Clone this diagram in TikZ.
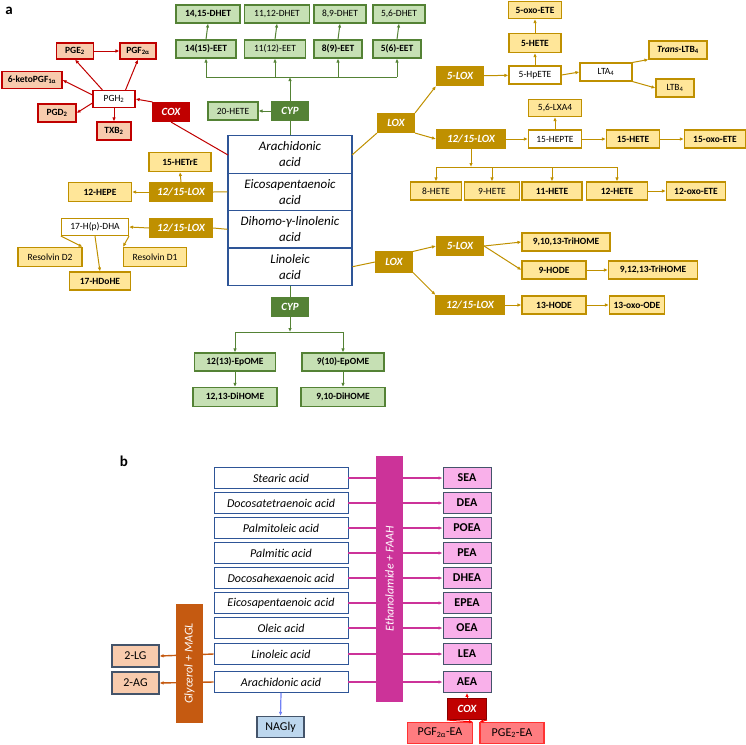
\documentclass[tikz,border=0pt]{standalone}
\usepackage{fontspec}
\setmainfont{Carlito}
\usetikzlibrary{arrows.meta}
\definecolor{gfill}{HTML}{C6E0B4}
\definecolor{gdraw}{HTML}{548235}
\definecolor{rfill}{HTML}{F8CBAD}
\definecolor{rdraw}{HTML}{C00000}
\definecolor{yfill}{HTML}{FFE699}
\definecolor{ydraw}{HTML}{BF9000}
\definecolor{bdraw}{HTML}{2E5597}
\definecolor{mag}{HTML}{CC3399}
\definecolor{pfill}{HTML}{F9B0EA}
\definecolor{slate}{HTML}{44546A}
\definecolor{ochre}{HTML}{C55A11}
\definecolor{lblue}{HTML}{BDD7EE}
\definecolor{coral}{HTML}{FF7C80}
\newcommand\smf{\fontsize{9.5}{10}\selectfont}
\tikzset{
  box/.style={draw, line width=1.1pt, inner sep=0pt, minimum height=18pt, font=\smf, align=center},
  gbox/.style={box, fill=gfill, draw=gdraw},
  rbox/.style={box, fill=rfill, draw=rdraw},
  ybox/.style={box, fill=yfill, draw=ydraw},
  wbox/.style={box, fill=white},
  enz/.style={box, text=white, font=\fontsize{11}{12}\selectfont\bfseries\itshape},
  cen/.style={draw=bdraw, line width=1.1pt, minimum width=124pt, minimum height=37.4pt, inner sep=0pt, align=center, font=\fontsize{13}{16}\selectfont\itshape},
  acid/.style={draw=bdraw, line width=0.9pt, minimum width=134pt, minimum height=21pt, inner sep=0pt, font=\fontsize{12}{13}\selectfont\itshape},
  ea/.style={draw=slate, fill=pfill, line width=0.9pt, minimum width=48pt, minimum height=21pt, inner sep=0pt, font=\fontsize{12}{13}\selectfont\bfseries},
  bar/.style={draw=none, inner sep=0pt, text=white, font=\fontsize{12}{13}\selectfont\itshape, rotate=90},
  gar/.style={draw=gdraw, line width=1pt, -{Latex[length=4pt,width=3.5pt]}},
  rar/.style={draw=rdraw, line width=1pt, -{Latex[length=4pt,width=3.5pt]}},
  yar/.style={draw=ydraw, line width=1pt, -{Latex[length=4pt,width=3.5pt]}},
  mar/.style={draw=mag, line width=1.2pt, -{Latex[length=4pt,width=3.5pt]}},
  oar/.style={draw=ochre, line width=1.4pt, -{Latex[length=4pt,width=3.5pt]}}
}
\begin{document}
\begin{tikzpicture}[x=1pt, y=-1pt]
\useasboundingbox (0,0) rectangle (746,744);

% panel labels
\node[font=\fontsize{15}{15}\selectfont\bfseries] (la_a) at (9,11) {a};
\node[font=\fontsize{15}{15}\selectfont\bfseries] (la_b) at (124,461) {b};

% central acids
\node[cen] (aa) at (290,154.5) {Arachidonic\\acid};
\node[cen] (epa) at (290,191.9) {Eicosapentaenoic\\acid};
\node[cen] (dgla) at (290,229.3) {Dihomo-γ-linolenic\\acid};
\node[cen] (la) at (290,266.7) {Linoleic\\acid};

% CYP, arachidonic
\node[enz, fill=gdraw, draw=gdraw, minimum width=36pt] (cyp) at (290,111) {CYP};
\node[gbox, minimum width=50pt] (h20) at (233,111) {20-HETE};
\foreach \nm/\xx/\ww/\ee/\dd/\fa/\fb in {a/206/60/14(15)-EET/{14,15-DHET}/\bfseries/\bfseries, b/275/61/11(12)-EET/{11,12-DHET}/\mdseries/\mdseries, c/338/48/8(9)-EET/{8,9-DHET}/\bfseries/\mdseries, d/397/48/5(6)-EET/{5,6-DHET}/\bfseries/\mdseries}{
  \node[gbox, minimum width=\ww pt, font=\smf\fa] (eet\nm) at (\xx,49) {\ee};
  \node[gbox, minimum width=\ww pt+4pt, font=\smf\fb] (dhet\nm) at (\xx+2,14) {\dd};
  \draw[gar] (eet\nm.north) -- (dhet\nm.south);
  \coordinate (cb\nm) at (\xx,77);
  \draw[gar] (cb\nm) -- (eet\nm.south);
}
\draw[gdraw, line width=1pt] (cba) -- (cbd);
\draw[gdraw, line width=1pt] (aa.north) -- (cyp.south);
\draw[gar] (cyp.north) -- (290,77);
\draw[gar] (cyp.west) -- (h20.east);

% COX
\node[enz, fill=rdraw, draw=rdraw, minimum width=36pt, minimum height=19pt] (cox) at (171,112) {COX};
\node[rbox, fill=white, minimum width=42pt, minimum height=17pt, font=\smf] (pgh) at (114,99) {PGH\textsubscript{2}};
\node[rbox, minimum width=37pt, minimum height=16pt, font=\smf\bfseries] (pge) at (75,51) {PGE\textsubscript{2}};
\node[rbox, minimum width=36pt, minimum height=16pt, font=\smf\bfseries] (pgf) at (138,51) {PGF\textsubscript{2α}};
\node[rbox, minimum width=60pt, minimum height=17pt, font=\smf\bfseries] (keto) at (32,80) {6-ketoPGF\textsubscript{1α}};
\node[rbox, minimum width=38pt, font=\smf\bfseries] (pgd) at (57,113) {PGD\textsubscript{2}};
\node[rbox, minimum width=34pt, font=\smf\bfseries] (txb) at (114,131) {TXB\textsubscript{2}};
\coordinate (aaw) at (228,155);
\draw[rdraw, line width=1pt] (aaw) -- (cox.south);
\draw[rar] (cox.north west) -- (pgh.east);
\draw[rar] (pge) -- (pgf);
\draw[rar] (pgh.north west) ++(10,0) -- (pge.south);
\draw[rar] (pgh.north east) ++(-10,0) -- (pgf.south);
\draw[rar] (pgh.west) ++(0,-4) -- (keto.east);
\draw[rar] (pgh.west) ++(0,4) -- (pgd.east);
\draw[rar] (pgh.south) -- (txb.north);

% EPA, DGLA
\node[enz, fill=ydraw, draw=ydraw, minimum width=63pt, minimum height=19pt] (loxe) at (181,192) {12/15-LOX};
\node[ybox, minimum width=62pt, minimum height=19pt, font=\smf\bfseries] (hetre) at (180,162) {15-HETrE};
\node[ybox, minimum width=63pt, minimum height=19pt, font=\smf\bfseries] (hepe) at (100,192) {12-HEPE};
\draw[ydraw, line width=1pt] (epa.west) -- (loxe.east);
\draw[yar] (loxe.west) -- (hepe.east);
\draw[yar] (loxe.north) -- (hetre.south);
\node[enz, fill=ydraw, draw=ydraw, minimum width=63pt, minimum height=19pt] (loxd) at (181,228) {12/15-LOX};
\node[wbox, draw=ydraw, minimum width=67pt, minimum height=17pt] (hdha) at (95,227) {17-H(p)-DHA};
\node[ybox, minimum width=64pt, minimum height=19pt] (rvd2) at (50,257) {Resolvin D2};
\node[ybox, minimum width=63pt, minimum height=19pt] (rvd1) at (155,257) {Resolvin D1};
\node[ybox, minimum width=61pt, font=\smf\bfseries] (hdohe) at (100,281) {17-HDoHE};
\draw[ydraw, line width=1pt] (dgla.west) -- (loxd.east);
\draw[yar] (loxd.west) -- (hdha.east);
\draw[yar] (hdha.south west) -- (rvd2.north east);
\draw[yar] (hdha.south east) -- (rvd1.north west);
\draw[yar] (hdha.south) -- (hdohe.north);

% LOX, arachidonic
\node[enz, fill=ydraw, draw=ydraw, minimum width=37pt, minimum height=19pt] (loxa) at (396,123) {LOX};
\node[enz, fill=ydraw, draw=ydraw, minimum width=47pt, minimum height=19pt] (lox5) at (460,76) {5-LOX};
\node[wbox, draw=ydraw, minimum width=52pt] (hpete) at (535,75) {5-HpETE};
\node[ybox, minimum width=52pt, minimum height=19pt, font=\smf\bfseries] (hete5) at (535,43) {5-HETE};
\node[ybox, minimum width=53pt, minimum height=17pt, font=\smf\bfseries] (oxo5) at (535,10) {5-oxo-ETE};
\node[wbox, draw=ydraw, minimum width=52pt] (lta) at (606,72) {LTA\textsubscript{4}};
\node[ybox, minimum width=58pt] (tltb) at (678,50) {\textbf{\textit{Trans}-LTB\textsubscript{4}}};
\node[ybox, minimum width=38pt] (ltb) at (675,88) {LTB\textsubscript{4}};
\coordinate (aae) at (352,155);
\draw[ydraw, line width=1pt] (aae) -- (loxa.south west);
\draw[yar] (loxa.north east) -- (lox5.south west);
\draw[yar] (lox5) -- (hpete);
\draw[yar] (hpete) -- (hete5);
\draw[yar] (hete5) -- (oxo5);
\draw[yar] (hpete.east) -- (lta.west);
\draw[yar] (lta.north east) -- (tltb.south west);
\draw[yar] (lta.south east) -- (ltb.west);
\node[enz, fill=ydraw, draw=ydraw, minimum width=69pt, minimum height=19pt] (lox15) at (471,139) {12/15-LOX};
\node[wbox, draw=ydraw, minimum width=53pt] (hepte) at (555,139) {15-HEPTE};
\node[ybox, minimum width=53pt, minimum height=17pt] (lxa) at (555,108) {5,6-LXA4};
\node[ybox, minimum width=53pt, font=\smf\bfseries] (hete15) at (633,139) {15-HETE};
\node[ybox, minimum width=61pt, font=\smf\bfseries] (oxo15) at (715,139) {15-oxo-ETE};
\draw[yar] (loxa.south east) -- (lox15.west);
\draw[yar] (lox15) -- (hepte);
\draw[yar] (hepte) -- (lxa);
\draw[yar] (hepte) -- (hete15);
\draw[yar] (hete15) -- (oxo15);
\foreach \nm/\xx/\ww/\tt/\fa in {8/436/51/8-HETE/\mdseries, 9/492/55/9-HETE/\mdseries, 11/552/60/11-HETE/\bfseries, 12/617/61/12-HETE/\bfseries}{
  \node[ybox, minimum width=\ww pt, font=\smf\fa] (hete\nm) at (\xx,191) {\tt};
  \draw[yar] (\xx,167) -- (hete\nm.north);
}
\node[ybox, minimum width=59pt, font=\smf\bfseries] (oxo12) at (696,191) {12-oxo-ETE};
\draw[ydraw, line width=1pt] (436,167) -- (617,167);
\draw[yar] (lox15.south) -- (471,167);
\draw[yar] (hete12) -- (oxo12);

% LOX, linoleic
\node[enz, fill=ydraw, draw=ydraw, minimum width=37pt, minimum height=20pt] (loxl) at (394,262) {LOX};
\node[enz, fill=ydraw, draw=ydraw, minimum width=47pt, minimum height=19pt] (lox5l) at (460,246) {5-LOX};
\node[enz, fill=ydraw, draw=ydraw, minimum width=68pt, minimum height=19pt] (lox15l) at (470,305) {12/15-LOX};
\node[ybox, minimum width=88pt, font=\smf\bfseries] (tri1) at (566,242) {9,10,13-TriHOME};
\node[ybox, minimum width=64pt, font=\smf\bfseries] (hode9) at (554,270) {9-HODE};
\node[ybox, minimum width=89pt, font=\smf\bfseries] (tri2) at (653,270) {9,12,13-TriHOME};
\node[ybox, minimum width=64pt, font=\smf\bfseries] (hode13) at (554,305) {13-HODE};
\node[ybox, minimum width=55pt, font=\smf\bfseries] (oxode) at (637,305) {13-oxo-ODE};
\draw[ydraw, line width=1pt] (la.east) -- (loxl.west);
\draw[yar] (loxl.north east) -- (lox5l.west);
\draw[yar] (loxl.south east) -- (lox15l.north west);
\draw[yar] (lox5l.east) -- (tri1.west);
\draw[yar] (lox5l.east) -- (hode9.west);
\draw[yar] (hode9) -- (tri2);
\draw[yar] (lox15l) -- (hode13);
\draw[yar] (hode13) -- (oxode);

% CYP, linoleic
\node[enz, fill=gdraw, draw=gdraw, minimum width=36pt, minimum height=19pt] (cypl) at (290,307) {CYP};
\node[gbox, minimum width=81pt, font=\smf\bfseries] (ep12) at (235,362) {12(13)-EpOME};
\node[gbox, minimum width=82pt, font=\smf\bfseries] (ep9) at (343,362) {9(10)-EpOME};
\node[gbox, minimum width=84pt, minimum height=19pt, font=\smf\bfseries] (di12) at (235,397) {12,13-DiHOME};
\node[gbox, minimum width=84pt, minimum height=19pt, font=\smf\bfseries] (di9) at (343,397) {9,10-DiHOME};
\draw[gdraw, line width=1pt] (la.south) -- (cypl.north);
\draw[gar] (cypl.south) -- (290,332);
\draw[gdraw, line width=1pt] (235,332) -- (343,332);
\draw[gar] (235,332) -- (ep12.north);
\draw[gar] (343,332) -- (ep9.north);
\draw[gar] (ep12) -- (di12);
\draw[gar] (ep9) -- (di9);

% panel b
\foreach \nm/\yy/\tt/\pp in {st/478/Stearic acid/SEA, dt/503/Docosatetraenoic acid/DEA, po/528/Palmitoleic acid/POEA, pa/553/Palmitic acid/PEA, dh/578/Docosahexaenoic acid/DHEA, ep/603/Eicosapentaenoic acid/EPEA, ol/628/Oleic acid/OEA, li/654/Linoleic acid/LEA, ar/682/Arachidonic acid/AEA}{
  \node[acid] (\nm) at (281,\yy) {\tt};
  \node[ea] (\nm e) at (467,\yy) {\pp};
  \draw[mar] (\nm) -- (\nm e);
}
\node[bar, fill=mag, minimum width=246pt, minimum height=27pt] (faah) at (389.5,579) {Ethanolamide + FAAH};
\node[box, draw=slate, fill=rfill, minimum width=47pt, minimum height=22pt, font=\fontsize{12}{13}\selectfont] (lg) at (135.5,656) {2-LG};
\node[box, draw=slate, fill=rfill, minimum width=47pt, minimum height=22pt, font=\fontsize{12}{13}\selectfont] (ag) at (135.5,683) {2-AG};
\draw[oar] (li.west) -- (lg.east);
\draw[oar] (ar.west) -- (ag.east);
\node[bar, fill=ochre, minimum width=119pt, minimum height=27pt] (magl) at (189.5,663.5) {Glycerol + MAGL};
\node[box, draw=slate, fill=lblue, minimum width=47pt, minimum height=21pt, font=\fontsize{12}{13}\selectfont] (nagly) at (280.5,727) {NAGly};
\draw[draw=lblue!60!blue, line width=1.2pt, -{Latex[length=4pt,width=3.5pt]}] (ar.south) -- (nagly.north);
\node[enz, fill=rdraw, draw=rdraw!70!black, minimum width=39pt, minimum height=21pt] (coxb) at (467,709) {COX};
\node[box, draw=red!80, fill=coral, minimum width=65pt, minimum height=21pt, font=\fontsize{12}{13}\selectfont] (pgfea) at (440,733) {PGF\textsubscript{2α}-EA};
\node[box, draw=red!80, fill=coral, minimum width=64pt, minimum height=21pt, font=\fontsize{12}{13}\selectfont] (pgeea) at (512,733) {PGE\textsubscript{2}-EA};
\draw[rar, draw=red] (coxb.north) -- (are.south);
\draw[rar, draw=red] (coxb.south west) -- (pgfea.north east);
\draw[rar, draw=red] (coxb.south east) -- (pgeea.north west);
\end{tikzpicture}
\end{document}
